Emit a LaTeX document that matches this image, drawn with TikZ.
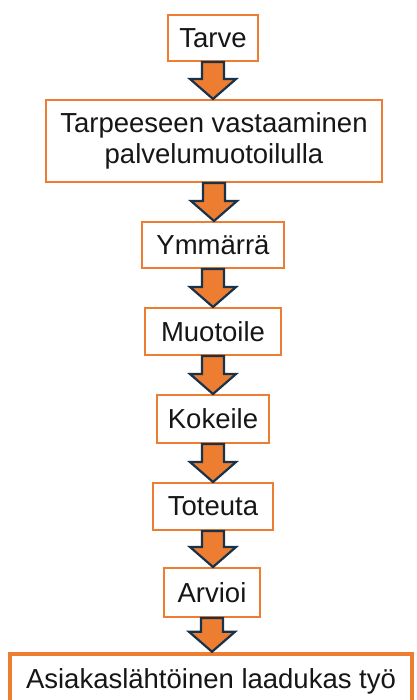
\documentclass[tikz,border=0pt]{standalone}
\usepackage{fontspec}
\setmainfont{Liberation Sans}
\usetikzlibrary{calc}
\definecolor{boxorange}{HTML}{ED7D31}
\definecolor{arrowline}{HTML}{18324A}
\definecolor{txt}{HTML}{161616}
\tikzset{
  stepbox/.style={draw=boxorange, line width=2pt, fill=white, text=txt,
    font=\fontsize{27.5}{31}\selectfont, inner sep=0pt, align=center},
  finalbox/.style={stepbox, line width=4.5pt},
  blockarrow/.style={fill=boxorange, draw=arrowline, line width=2.2pt, line join=miter},
}
\newcommand\flowarrow[2]{%
  \coordinate (tip) at (#1.south |- #2.north);
  \draw[blockarrow] ($(#1.south)+(-11,0)$) -- ($(tip)+(-11,-20)$)
    -- ($(tip)+(-23,-20)$) -- (tip) -- ($(tip)+(23,-20)$)
    -- ($(tip)+(11,-20)$) -- ($(#1.south)+(11,0)$) -- cycle;}
\begin{document}
\begin{tikzpicture}[x=1pt,y=-1pt]
\useasboundingbox (0,0) rectangle (416,700);
\clip (0,0) rectangle (416,700);
\node[stepbox, minimum width=90pt, minimum height=46pt] (tarve) at (213,38) {Tarve};
\node[stepbox, minimum width=336pt, minimum height=82pt] (vast) at (214,141) {Tarpeeseen vastaaminen\\palvelumuotoilulla};
\node[stepbox, minimum width=142pt, minimum height=46pt] (ymm) at (213,245) {Ymmärrä};
\node[stepbox, minimum width=136pt, minimum height=47pt] (muot) at (213,331.5) {Muotoile};
\node[stepbox, minimum width=112pt, minimum height=48pt] (kok) at (213,419) {Kokeile};
\node[stepbox, minimum width=120pt, minimum height=47pt] (tot) at (213,506.5) {Toteuta};
\node[stepbox, minimum width=96pt, minimum height=49pt] (arv) at (212,592.5) {Arvioi};
\node[finalbox, minimum width=402pt, minimum height=54pt] (tyo) at (211,681) {Asiakaslähtöinen laadukas työ};
\flowarrow{tarve}{vast}
\flowarrow{vast}{ymm}
\flowarrow{ymm}{muot}
\flowarrow{muot}{kok}
\flowarrow{kok}{tot}
\flowarrow{tot}{arv}
\flowarrow{arv}{tyo}
\end{tikzpicture}
\end{document}
